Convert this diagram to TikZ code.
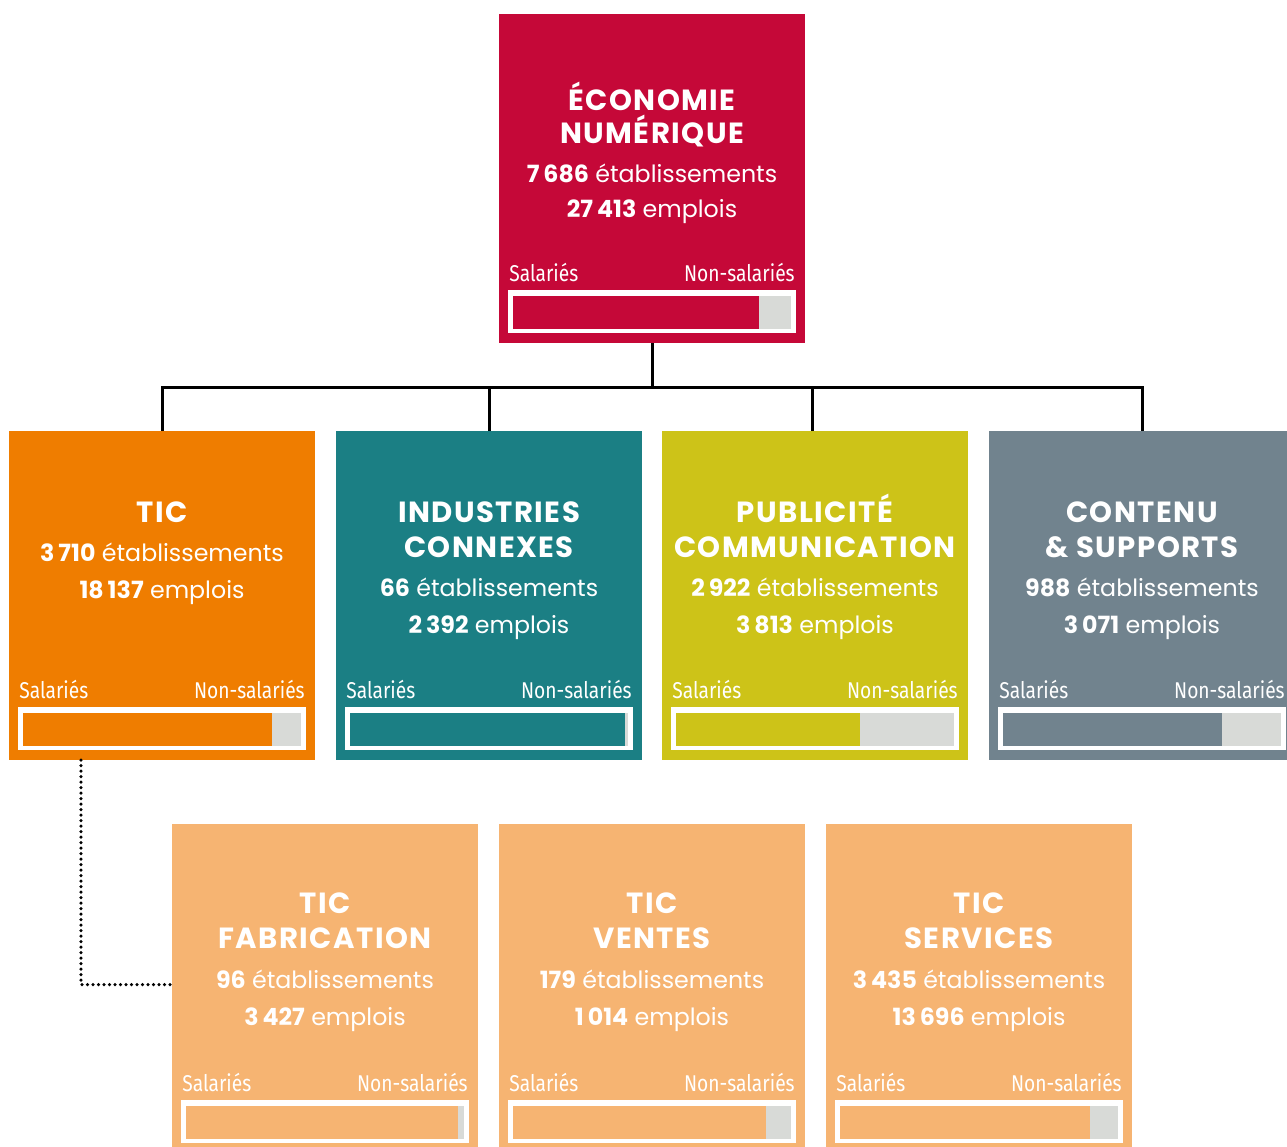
\documentclass[tikz,border=0pt]{standalone}
\usepackage{fontspec}
\setmainfont{Poppins}
\newfontfamily\titrefont[LetterSpace=5]{Poppins}
\newfontfamily\etiqfont[FakeStretch=0.84]{Fira Sans}
\usetikzlibrary{calc}

\definecolor{rouge}{RGB}{197,8,56}
\definecolor{orange}{RGB}{239,125,0}
\definecolor{sarcelle}{RGB}{27,127,132}
\definecolor{olive}{RGB}{205,195,24}
\definecolor{ardoise}{RGB}{113,131,142}
\definecolor{peche}{RGB}{246,180,114}
\definecolor{grisbarre}{RGB}{216,218,215}

\begin{document}
\begin{tikzpicture}[x=0.2mm, y=-0.2mm,
	boite/.style={shape=rectangle, inner sep=0pt, outer sep=0pt, minimum width=61.2mm, minimum height=65.8mm},
	titre/.style={anchor=base, inner sep=0pt, text=white, font=\titrefont\bfseries\fontsize{16.6}{19}\selectfont},
	chiffre/.style={anchor=base, inner sep=0pt, text=white, font=\fontsize{13.5}{16}\selectfont},
	etiq/.style={inner sep=0pt, text=white, font=\etiqfont\fontsize{13}{15}\selectfont},
	lien/.style={line width=0.6mm},
	pointille/.style={line width=0.7mm, line cap=round, dash pattern=on 0pt off 1.1mm}]
	\useasboundingbox (0,0) rectangle (1287,1147);
	% Boxes:
	\node[boite, fill=rouge] (eco) at (652,178.5) {};
	\node[boite, fill=orange] (tic) at (162,595.5) {};
	\node[boite, fill=sarcelle] (ind) at (489,595.5) {};
	\node[boite, fill=olive] (pub) at (815,595.5) {};
	\node[boite, fill=ardoise] (cont) at (1142,595.5) {};
	\node[boite, fill=peche] (fab) at (325,988.5) {};
	\node[boite, fill=peche] (ven) at (652,988.5) {};
	\node[boite, fill=peche] (serv) at (979,988.5) {};
	% Texts:
	\node[titre] (eco-t1) at ($(eco.north)+(0,96)$) {ÉCONOMIE};
	\node[titre] (eco-t2) at ($(eco.north)+(0,129)$) {NUMÉRIQUE};
	\node[chiffre] (eco-etab) at ($(eco.north)+(0,168)$) {{\bfseries 7\,686} établissements};
	\node[chiffre] (eco-empl) at ($(eco.north)+(0,203)$) {{\bfseries 27\,413} emplois};
	\node[titre] (tic-t1) at ($(tic.north)+(0,91)$) {TIC};
	\node[chiffre] (tic-etab) at ($(tic.north)+(0,130)$) {{\bfseries 3\,710} établissements};
	\node[chiffre] (tic-empl) at ($(tic.north)+(0,167)$) {{\bfseries 18\,137} emplois};
	\node[titre] (ind-t1) at ($(ind.north)+(0,91)$) {INDUSTRIES};
	\node[titre] (ind-t2) at ($(ind.north)+(0,126)$) {CONNEXES};
	\node[chiffre] (ind-etab) at ($(ind.north)+(0,165)$) {{\bfseries 66} établissements};
	\node[chiffre] (ind-empl) at ($(ind.north)+(0,202)$) {{\bfseries 2\,392} emplois};
	\node[titre] (pub-t1) at ($(pub.north)+(0,91)$) {PUBLICITÉ};
	\node[titre] (pub-t2) at ($(pub.north)+(0,126)$) {COMMUNICATION};
	\node[chiffre] (pub-etab) at ($(pub.north)+(0,165)$) {{\bfseries 2\,922} établissements};
	\node[chiffre] (pub-empl) at ($(pub.north)+(0,202)$) {{\bfseries 3\,813} emplois};
	\node[titre] (cont-t1) at ($(cont.north)+(0,91)$) {CONTENU};
	\node[titre] (cont-t2) at ($(cont.north)+(0,126)$) {\&~SUPPORTS};
	\node[chiffre] (cont-etab) at ($(cont.north)+(0,165)$) {{\bfseries 988} établissements};
	\node[chiffre] (cont-empl) at ($(cont.north)+(0,202)$) {{\bfseries 3\,071} emplois};
	\node[titre] (fab-t1) at ($(fab.north)+(0,89)$) {TIC};
	\node[titre] (fab-t2) at ($(fab.north)+(0,124)$) {FABRICATION};
	\node[chiffre] (fab-etab) at ($(fab.north)+(0,164)$) {{\bfseries 96} établissements};
	\node[chiffre] (fab-empl) at ($(fab.north)+(0,201)$) {{\bfseries 3\,427} emplois};
	\node[titre] (ven-t1) at ($(ven.north)+(0,89)$) {TIC};
	\node[titre] (ven-t2) at ($(ven.north)+(0,124)$) {VENTES};
	\node[chiffre] (ven-etab) at ($(ven.north)+(0,164)$) {{\bfseries 179} établissements};
	\node[chiffre] (ven-empl) at ($(ven.north)+(0,201)$) {{\bfseries 1\,014} emplois};
	\node[titre] (serv-t1) at ($(serv.north)+(0,89)$) {TIC};
	\node[titre] (serv-t2) at ($(serv.north)+(0,124)$) {SERVICES};
	\node[chiffre] (serv-etab) at ($(serv.north)+(0,164)$) {{\bfseries 3\,435} établissements};
	\node[chiffre] (serv-empl) at ($(serv.north)+(0,201)$) {{\bfseries 13\,696} emplois};
	% Salaried / non-salaried bars:
	\foreach \b/\f/\c in {eco/0.885/rouge, tic/0.896/orange, ind/0.99/sarcelle, pub/0.663/olive, cont/0.789/ardoise, fab/0.98/peche, ven/0.91/peche, serv/0.90/peche} {
		\fill[white] ($(\b.north west)+(9,276)$) rectangle ($(\b.north east)+(-9,319)$);
		\fill[grisbarre] ($(\b.north west)+(14,282)$) rectangle ($(\b.north east)+(-14,315)$);
		\fill[\c] ($(\b.north west)+(14,282)$) rectangle ($(\b.north west)+(14+\f*278,315)$);
		\node[etiq, anchor=base west] (\b-sal) at ($(\b.north west)+(10,267)$) {Salariés};
		\node[etiq, anchor=base east] (\b-nonsal) at ($(\b.north east)+(-10,267)$) {Non-salariés};
	}
	% Wires:
	\coordinate (bus) at (651,387);
	\draw[lien] (eco.south) -- (eco.south |- bus);
	\draw[lien] (tic.north) -- (tic.north |- bus) -- (cont.north |- bus) -- (cont.north);
	\draw[lien] (ind.north) -- (ind.north |- bus);
	\draw[lien] ([xshift=-0.6mm]pub.north) -- ([xshift=-0.6mm]pub.north |- bus);
	\coordinate (tic-pied) at ($(tic.south west)+(72,0)$);
	\draw[pointille] (tic-pied) |- ($(fab.west)+(0,-4)$);
\end{tikzpicture}
\end{document}
